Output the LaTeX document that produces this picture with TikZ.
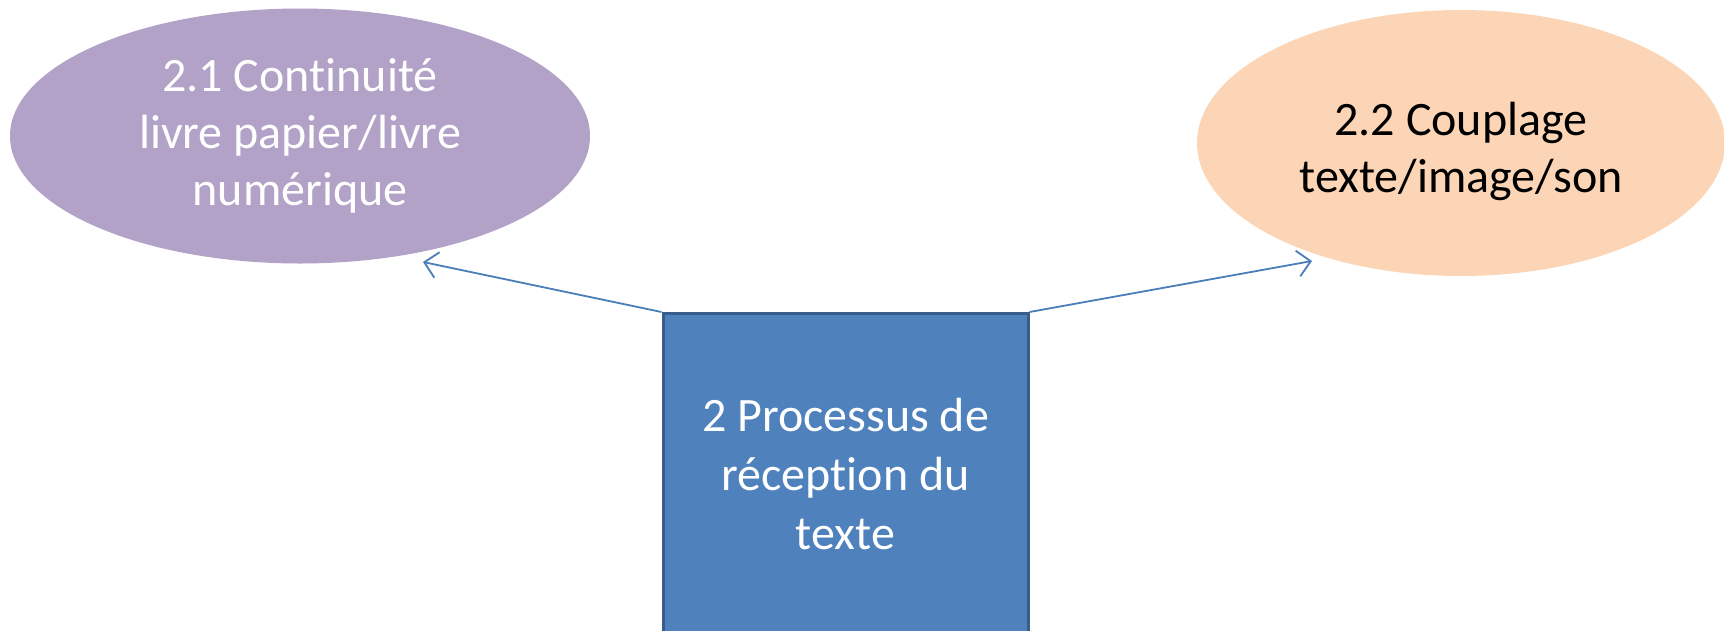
\documentclass[tikz,border=0pt]{standalone}
\usepackage{fontspec}
\setmainfont{Carlito}[Ligatures=NoCommon]
\usetikzlibrary{shapes.geometric,arrows.meta}
\definecolor{purp}{HTML}{B2A2C7}
\definecolor{peach}{HTML}{FBD5B5}
\definecolor{boxfill}{HTML}{4F81BD}
\definecolor{boxline}{HTML}{385D8A}
\definecolor{arr}{HTML}{4A7EBB}
\tikzset{
  bubble/.style={ellipse, draw=none, inner sep=0pt, align=center,
    font=\fontsize{48}{57}\selectfont},
  mainbox/.style={rectangle, fill=boxfill, draw=boxline, line width=3pt,
    align=center, text=white, font=\fontsize{48}{59}\selectfont,
    minimum width=365pt, minimum height=340pt, anchor=north},
  conn/.style={draw=arr, line width=1.8pt, -{Straight Barb[length=13pt,width=26pt,line width=1.8pt]}}
}
\begin{document}
\begin{tikzpicture}[x=1pt,y=-1pt]
\useasboundingbox (0,0) rectangle (1724,630);
\node[bubble, fill=purp, minimum width=580pt, minimum height=255pt, text=white] (a) at (300,136) {2.1 Continuité\\livre papier/livre\\numérique};
\node[bubble, fill=peach, minimum width=528pt, minimum height=266pt, text=black] (b) at (1461,143) {};
\node[align=center, font=\fontsize{48}{57}\selectfont, inner sep=0pt] (bt) at (1461,151) {2.2 Couplage\\texte/image/son};
\node[mainbox] (m) at (845.5,312) {};
\node[align=center, text=white, font=\fontsize{48}{59}\selectfont, inner sep=0pt] (mt) at (845.5,474) {2 Processus de\\réception du\\texte};
\coordinate (t1) at (423,262);
\coordinate (t2) at (1312,261);
\draw[conn] (m.north west) -- (t1);
\draw[conn] (m.north east) -- (t2);
\end{tikzpicture}
\end{document}
